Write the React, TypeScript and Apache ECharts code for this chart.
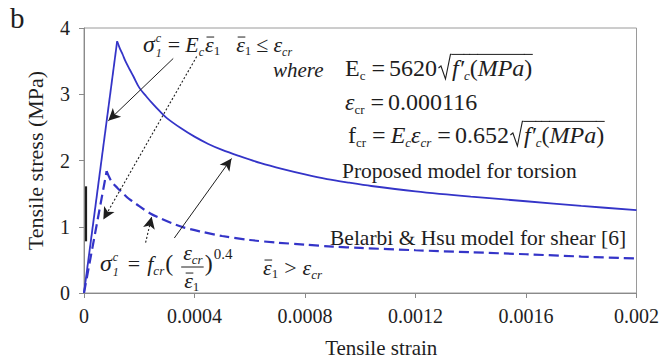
import React, { useEffect, useRef } from "react";
import * as echarts from "echarts";

// ---- data ----
const proposedRiseStrain = [0, 0.00012];
const proposedRiseStress = [0, 3.8];
const proposedFallStrain = [0.00012, 0.00013, 0.00014, 0.00015, 0.000166, 0.00018, 0.0002, 0.000225, 0.00025, 0.000275, 0.0003, 0.00035, 0.0004, 0.00045, 0.0005, 0.00056, 0.00064, 0.00072, 0.0008, 0.00088, 0.00096, 0.00104, 0.0012, 0.0014, 0.0016, 0.0018, 0.002];
const proposedFallStress = [3.8, 3.69, 3.6, 3.5, 3.37, 3.26, 3.1, 2.97, 2.85, 2.74, 2.64, 2.49, 2.36, 2.25, 2.16, 2.07, 1.96, 1.87, 1.79, 1.72, 1.665, 1.615, 1.535, 1.455, 1.385, 1.315, 1.25];

const belarbiRiseStrain = [0, 0.000082];
const belarbiRiseStress = [0, 1.84];
const belarbiFallStrain = [0.000082, 0.00009, 0.0001, 0.00012, 0.00014, 0.00016, 0.00018, 0.0002, 0.00024, 0.00028, 0.00032, 0.00036, 0.00042, 0.0005, 0.0006, 0.0007, 0.0008, 0.0009, 0.001, 0.0012, 0.0014, 0.0016, 0.0018, 0.002];
const belarbiFallStress = [1.84, 1.76, 1.68, 1.59, 1.51, 1.43, 1.37, 1.31, 1.2, 1.12, 1.05, 0.99, 0.93, 0.86, 0.8, 0.76, 0.73, 0.7, 0.68, 0.645, 0.615, 0.585, 0.55, 0.52];

const xTickLabels = ["0", "0.0004", "0.0008", "0.0012", "0.0016", "0.002"];
const yTickLabels = ["0", "1", "2", "3", "4"];

// annotation arrows: [startStrain, startStress, tipStrain, tipStress]
const arrowSolid1 = [0.000323, 3.54, 0.000088, 2.6];
const arrowDotted1 = [0.000408, 3.57, 0.00007, 1.11];
const arrowSolid2 = [0.000327, 0.83, 0.000534, 2.03];
const arrowDotted2 = [0.000223, 0.76, 0.000245, 1.15];
const axisMark = [0.000005, 0.78, 0.000005, 1.61];

const FONT = '"Liberation Serif", "Times New Roman", serif';
const INK = "#1e1e1e";
const BLUE = "#3434c8";

type Tok = { t: string; s?: number; it?: boolean; dy?: number; dx?: number; bar?: boolean; vin?: boolean; sub?: string; rad?: boolean };

let ctx: CanvasRenderingContext2D | null = null;
function measure(t: string, s: number, it?: boolean) {
  if (!ctx) ctx = document.createElement("canvas").getContext("2d");
  if (!ctx) return t.length * s * 0.5;
  ctx.font = `${it ? "italic " : ""}${s}px ${FONT}`;
  return ctx.measureText(t).width;
}

function txt(x: number, yMid: number, t: string, s: number, it?: boolean, lh?: number) {
  return {
    type: "text",
    x,
    y: yMid,
    silent: true,
    style: {
      text: t,
      fontFamily: FONT,
      fontSize: s,
      fontStyle: it ? "italic" : "normal",
      fill: INK,
      align: "left",
      verticalAlign: "middle",
      lineHeight: lh,
    },
  };
}

function layout(x0: number, base: number, toks: Tok[], out: any[], def = 21): number {
  let x = x0;
  const vinY = base - 0.9 * def;
  for (const k of toks) {
    const s = k.s ?? def;
    const start = x + (k.dx ?? 0);
    const y = base + (k.dy ?? 0);
    let w: number;
    if (k.rad) {
      w = 13;
      out.push({
        type: "polyline",
        silent: true,
        shape: {
          points: [
            [start + 0.5, base - 8],
            [start + 3, base - 10],
            [start + 7.5, base + 3],
            [start + 12.5, vinY],
            [start + 13.5, vinY],
          ],
        },
        style: { stroke: INK, lineWidth: 1.1, fill: "none" },
      });
    } else if (k.sub !== undefined) {
      // stacked superscript (t) over subscript (sub) as one text
      w = Math.max(measure(k.t, s, k.it), measure(k.sub, s, false));
      const lh = s + 3;
      out.push(txt(start, y - lh * 0.5 + 1, `${k.t}\n${k.sub}`, s, k.it, lh));
    } else {
      w = measure(k.t, s, k.it);
      out.push(txt(start, y - 0.34 * s, k.t, s, k.it));
    }
    if (k.bar) {
      out.push({
        type: "line",
        silent: true,
        shape: { x1: start + 1.5, y1: y - 0.68 * s, x2: start + w + 0.5, y2: y - 0.68 * s },
        style: { stroke: INK, lineWidth: 1 },
      });
    }
    if (k.vin) {
      out.push({
        type: "line",
        silent: true,
        shape: { x1: start - 0.5, y1: vinY, x2: start + w + 0.5, y2: vinY },
        style: { stroke: INK, lineWidth: 1 },
      });
    }
    x = start + w;
  }
  return x;
}

function buildGraphics() {
  const g: any[] = [];
  g.push(txt(10, 28 - 0.34 * 29, "b", 29));

  // sigma = Ec eps   eps <= eps_cr
  layout(143, 52, [
    { t: "σ", it: true, s: 24 },
    { t: "c", sub: "1", it: true, s: 12, dx: 1 },
    { t: "=", dx: 6 },
    { t: "E", it: true, dx: 5 },
    { t: "c", it: true, s: 12, dy: 4 },
    { t: "ε", it: true, bar: true, dx: 1 },
    { t: "1", s: 13, dy: 3 },
    { t: "ε", it: true, bar: true, dx: 16 },
    { t: "1", s: 13, dy: 3 },
    { t: "≤", dx: 5 },
    { t: "ε", it: true, dx: 5 },
    { t: "cr", it: true, s: 12, dy: 4 },
  ], g, 22);

  // where block
  layout(273, 77, [{ t: "where", it: true }], g, 21);
  layout(345, 76, [
    { t: "E" },
    { t: "c", s: 13, dy: 4 },
    { t: "=", dx: 6 },
    { t: "5620", dx: 4 },
    { t: "", rad: true, dx: 1 },
    { t: "f′", it: true, vin: true, dx: 1 },
    { t: "c", it: true, s: 13, dy: 4, vin: true },
    { t: "(", vin: true },
    { t: "MPa", it: true, vin: true },
    { t: ")", vin: true },
  ], g, 24);
  layout(345, 110, [
    { t: "ε", it: true },
    { t: "cr", s: 13, dy: 4 },
    { t: "=", dx: 6 },
    { t: "0.000116", dx: 4 },
  ], g, 24);
  layout(348, 143, [
    { t: "f" },
    { t: "cr", s: 13, dy: 4 },
    { t: "=", dx: 6 },
    { t: "E", it: true, dx: 5 },
    { t: "c", it: true, s: 13, dy: 4 },
    { t: "ε", it: true },
    { t: "cr", it: true, s: 13, dy: 4 },
    { t: "=", dx: 6 },
    { t: "0.652", dx: 4 },
    { t: "", rad: true, dx: 1 },
    { t: "f′", it: true, vin: true, dx: 1 },
    { t: "c", it: true, s: 13, dy: 4, vin: true },
    { t: "(", vin: true },
    { t: "MPa", it: true, vin: true },
    { t: ")", vin: true },
  ], g, 24);

  // curve labels
  layout(342, 178, [{ t: "Proposed model for torsion" }], g, 21.5);
  layout(330, 245, [{ t: "Belarbi & Hsu model for shear [6]" }], g, 21.5);

  // sigma = fcr (eps_cr / eps)^0.4
  let x = layout(100, 271, [
    { t: "σ", it: true, s: 24 },
    { t: "c", sub: "1", it: true, s: 12, dx: 1 },
    { t: "=", dx: 9 },
    { t: "f", it: true, dx: 7 },
    { t: "cr", it: true, s: 13, dy: 4 },
    { t: "(", dx: 1, s: 24 },
  ], g, 22);
  const numStart = x + 10;
  const numEnd = layout(numStart, 260, [
    { t: "ε", it: true },
    { t: "cr", it: true, s: 13, dy: 4 },
  ], g, 22);
  const denEnd = layout(numStart + 1, 288, [
    { t: "ε", it: true, bar: true },
    { t: "1", s: 13, dy: 3 },
  ], g, 22);
  const fracEnd = Math.max(numEnd, denEnd) + 1;
  g.push({
    type: "line", silent: true,
    shape: { x1: numStart - 2, y1: 267, x2: fracEnd, y2: 267 },
    style: { stroke: INK, lineWidth: 1 },
  });
  x = layout(fracEnd + 1, 271, [{ t: ")", s: 24 }], g, 22);
  layout(x + 1, 259, [{ t: "0.4" }], g, 15);

  layout(263, 275, [
    { t: "ε", it: true, bar: true },
    { t: "1", s: 13, dy: 3 },
    { t: ">", dx: 6 },
    { t: "ε", it: true, dx: 6 },
    { t: "cr", it: true, s: 13, dy: 4 },
  ], g, 22);
  return g;
}

function zip(a: number[], b: number[]) {
  return a.map((v, i) => [v, b[i]]);
}

function arrow(a: number[], dotted: boolean, head = true, width = 1) {
  const ls = { color: INK, width: dotted ? 1.1 : width, type: dotted ? [2, 2] : "solid" };
  return [
    { coord: [a[0], a[1]], symbol: "none", lineStyle: ls },
    { coord: [a[2], a[3]], symbol: head ? "arrow" : "none", symbolSize: [9, 12], lineStyle: ls },
  ];
}

export default function App() {
  const ref = useRef<HTMLDivElement>(null);
  useEffect(() => {
    if (!ref.current) return;
    const chart = echarts.init(ref.current, null, { renderer: "svg" });
    const axisLine = { lineStyle: { color: "#8a8a8a", width: 1 } };
    chart.setOption({
      animation: false,
      backgroundColor: "#ffffff",
      grid: { left: 84, right: 25, top: 28, bottom: 69, show: true, borderColor: "#9a9a9a", borderWidth: 1 },
      xAxis: {
        type: "value",
        min: 0,
        max: 0.002,
        interval: 0.0004,
        name: "Tensile strain",
        nameLocation: "middle",
        nameGap: 44,
        nameTextStyle: { fontFamily: FONT, fontSize: 21, color: INK, padding: [0, 0, 0, 42] },
        axisLine,
        axisTick: { show: true, length: 5, lineStyle: { color: "#8a8a8a" } },
        splitLine: { show: false },
        axisLabel: {
          fontFamily: FONT, fontSize: 20, color: INK, margin: 13,
          formatter: (v: number) => xTickLabels[Math.round(v / 0.0004)] ?? "",
        },
      },
      yAxis: {
        type: "value",
        min: 0,
        max: 4,
        interval: 1,
        name: "Tensile stress (MPa)",
        nameLocation: "middle",
        nameGap: 38,
        nameTextStyle: { fontFamily: FONT, fontSize: 22, color: INK },
        axisLine: { show: true, ...axisLine },
        axisTick: { show: true, length: 5, lineStyle: { color: "#8a8a8a" } },
        splitLine: { show: false },
        axisLabel: {
          fontFamily: FONT, fontSize: 20, color: INK, margin: 14,
          formatter: (v: number) => yTickLabels[Math.round(v)] ?? "",
        },
      },
      series: [
        {
          type: "line",
          name: "Proposed rise",
          data: zip(proposedRiseStrain, proposedRiseStress),
          showSymbol: false,
          lineStyle: { color: BLUE, width: 1.8 },
          markLine: {
            silent: true,
            animation: false,
            label: { show: false },
            data: [
              arrow(arrowSolid1, false),
              arrow(arrowDotted1, true),
              arrow(arrowSolid2, false),
              arrow(arrowDotted2, true),
              arrow(axisMark, false, false, 2.2),
            ],
            itemStyle: { color: INK },
          },
        },
        {
          type: "line",
          name: "Proposed model for torsion",
          data: zip(proposedFallStrain, proposedFallStress),
          showSymbol: false,
          smooth: 0.3,
          lineStyle: { color: BLUE, width: 1.8 },
        },
        {
          type: "line",
          name: "Belarbi rise",
          data: zip(belarbiRiseStrain, belarbiRiseStress),
          showSymbol: false,
          lineStyle: { color: BLUE, width: 2.2, type: [10, 5] },
        },
        {
          type: "line",
          name: "Belarbi & Hsu model for shear [6]",
          data: zip(belarbiFallStrain, belarbiFallStress),
          showSymbol: false,
          smooth: 0.3,
          lineStyle: { color: BLUE, width: 2.2, type: [10, 5] },
        },
      ],
      graphic: buildGraphics(),
    });
    return () => chart.dispose();
  }, []);
  return <div ref={ref} style={{ position: "fixed", left: 0, top: 0, width: 662, height: 363 }} />;
}
